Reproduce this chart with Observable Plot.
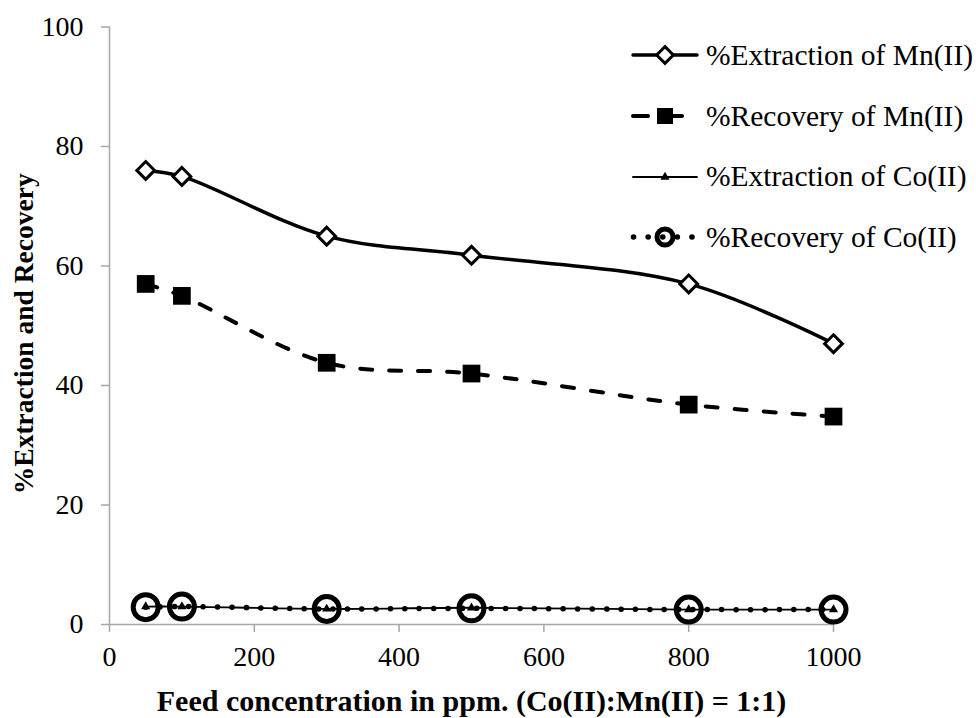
<!DOCTYPE html>
<html>
<head>
<meta charset="utf-8">
<script src="https://cdn.jsdelivr.net/npm/d3@7"></script>
<script src="https://cdn.jsdelivr.net/npm/@observablehq/plot@0.6"></script>
<style>
  html, body { margin: 0; padding: 0; background: #fff; }
  #wrap { position: relative; width: 976px; height: 718px; font-family: "Liberation Serif", "DejaVu Serif", serif; }
  #wrap svg text { font-family: "Liberation Serif", "DejaVu Serif", serif; }
  #legend { position: absolute; left: 630px; top: 25px; }
  .lrow { display: flex; align-items: center; height: 60.7px; }
  .lrow span { font-family: "Liberation Serif", "DejaVu Serif", serif; font-size: 29.5px; color: #000; margin-left: 6px; white-space: nowrap; }
</style>
</head>
<body>
<div id="wrap"></div>
<script>
// Data
const feed = [50, 100, 300, 500, 800, 1000];
const extractionMn = [76, 75, 65, 61.8, 57, 47];
const recoveryMn = [57, 55, 43.8, 42, 36.8, 34.8];
const extractionCo = [3, 3, 2.6, 2.8, 2.5, 2.5];
const recoveryCo = [2.9, 3, 2.6, 2.7, 2.5, 2.5];
const seriesNames = ["%Extraction of Mn(II)", "%Recovery of Mn(II)", "%Extraction of Co(II)", "%Recovery of Co(II)"];
const xTicks = [0, 200, 400, 600, 800, 1000];
const yTicks = [0, 20, 40, 60, 80, 100];
const xLabel = "Feed concentration in ppm. (Co(II):Mn(II) = 1:1)";
const yLabel = "%Extraction and Recovery";

const rows = (ys) => feed.map((x, i) => ({x, y: ys[i]}));
const dExtMn = rows(extractionMn), dRecMn = rows(recoveryMn), dExtCo = rows(extractionCo), dRecCo = rows(recoveryCo);

const axisGray = "#a6a6a6";
const serif = "Liberation Serif, DejaVu Serif, serif";

const chart = Plot.plot({
  width: 976,
  height: 718,
  marginLeft: 109,
  marginRight: 143,
  marginTop: 26.5,
  marginBottom: 94,
  style: {fontFamily: serif, fontSize: "28px", color: "#000", background: "#fff"},
  x: {domain: [0, 1000], ticks: xTicks},
  y: {domain: [0, 100], ticks: yTicks},
  marks: [
    Plot.ruleX([0], {stroke: axisGray, strokeWidth: 1.5}),
    Plot.ruleY([0], {stroke: axisGray, strokeWidth: 1.5}),
    Plot.axisX({ticks: xTicks, tickFormat: d => String(d), tickSize: 8, tickPadding: 14, stroke: axisGray, strokeWidth: 1.5, fill: "#000", label: null, fontSize: 28}),
    Plot.axisY({ticks: yTicks, tickFormat: d => String(d), tickSize: 8, tickPadding: 18, stroke: axisGray, strokeWidth: 1.5, fill: "#000", label: null, fontSize: 28}),
    Plot.text([xLabel], {frameAnchor: "bottom", lineAnchor: "middle", textAnchor: "middle", dy: 77, fontWeight: "bold", fontSize: 30, fill: "#000"}),
    Plot.text([yLabel], {frameAnchor: "left", lineAnchor: "middle", textAnchor: "middle", dx: -85, dy: 8, rotate: -90, fontWeight: "bold", fontSize: 27.5, fill: "#000"}),

    // %Extraction of Mn(II): solid line, open diamonds
    Plot.line(dExtMn, {x: "x", y: "y", curve: "catmull-rom", stroke: "#000", strokeWidth: 3.5}),
    Plot.dot(dExtMn, {x: "x", y: "y", symbol: "diamond2", r: 8, stroke: "#000", strokeWidth: 3, fill: "#fff"}),

    // %Recovery of Mn(II): dashed line, filled squares
    Plot.line(dRecMn, {x: "x", y: "y", curve: "catmull-rom", stroke: "#000", strokeWidth: 4, strokeDasharray: "12 17", strokeLinecap: "round"}),
    Plot.dot(dRecMn, {x: "x", y: "y", symbol: "square", r: 10, fill: "#000", stroke: "none"}),

    // %Recovery of Co(II): dotted line, thick open circles
    Plot.line(dRecCo, {x: "x", y: "y", curve: "catmull-rom", stroke: "#000", strokeWidth: 5.5, strokeDasharray: "0.1 14.3", strokeLinecap: "round"}),
    Plot.dot(dRecCo, {x: "x", y: "y", symbol: "circle", r: 12.5, stroke: "#000", strokeWidth: 5, fill: "none"}),

    // %Extraction of Co(II): thin line, small triangles
    Plot.line(dExtCo, {x: "x", y: "y", curve: "catmull-rom", stroke: "#000", strokeWidth: 1.8}),
    Plot.dot(dExtCo, {x: "x", y: "y", symbol: "triangle", r: 3.4, fill: "#000", stroke: "none"})
  ]
});

const wrap = document.getElementById("wrap");
wrap.appendChild(chart);

// Legend (HTML overlay with small SVG swatches)
const legend = document.createElement("div");
legend.id = "legend";
const swatchStyles = [
  {line: {dash: null, w: 3.5}, segs: [[3, 67]], sym: "diamond", fill: "#fff", stroke: "#000", sw: 3, r: 7.5},
  {line: {dash: null, w: 4}, segs: [[3, 18], [36, 52]], sym: "square", fill: "#000", stroke: "none", sw: 0, r: 9},
  {line: {dash: null, w: 1.8}, segs: [[3, 67]], sym: "triangle", fill: "#000", stroke: "none", sw: 0, r: 3.4},
  {line: {dash: "0.1 14.5", w: 5.5}, segs: [[3.5, 68]], sym: "circle", fill: "none", stroke: "#000", sw: 5, r: 8}
];
const symMap = {diamond: d3.symbolDiamond2, square: d3.symbolSquare, triangle: d3.symbolTriangle, circle: d3.symbolCircle};
seriesNames.forEach((name, i) => {
  const s = swatchStyles[i];
  const row = document.createElement("div");
  row.className = "lrow";
  const svg = d3.create("svg").attr("width", 70).attr("height", 30);
  s.segs.forEach(([a, b]) => {
    svg.append("line").attr("x1", a).attr("x2", b).attr("y1", 15).attr("y2", 15)
      .attr("stroke", "#000").attr("stroke-width", s.line.w).attr("stroke-linecap", "round")
      .attr("stroke-dasharray", s.line.dash);
  });
  svg.append("path")
    .attr("transform", "translate(35,15)")
    .attr("d", d3.symbol(symMap[s.sym], Math.PI * s.r * s.r)())
    .attr("fill", s.fill).attr("stroke", s.stroke).attr("stroke-width", s.sw);
  row.appendChild(svg.node());
  const t = document.createElement("span");
  t.textContent = name;
  row.appendChild(t);
  legend.appendChild(row);
});
wrap.appendChild(legend);
</script>
</body>
</html>
